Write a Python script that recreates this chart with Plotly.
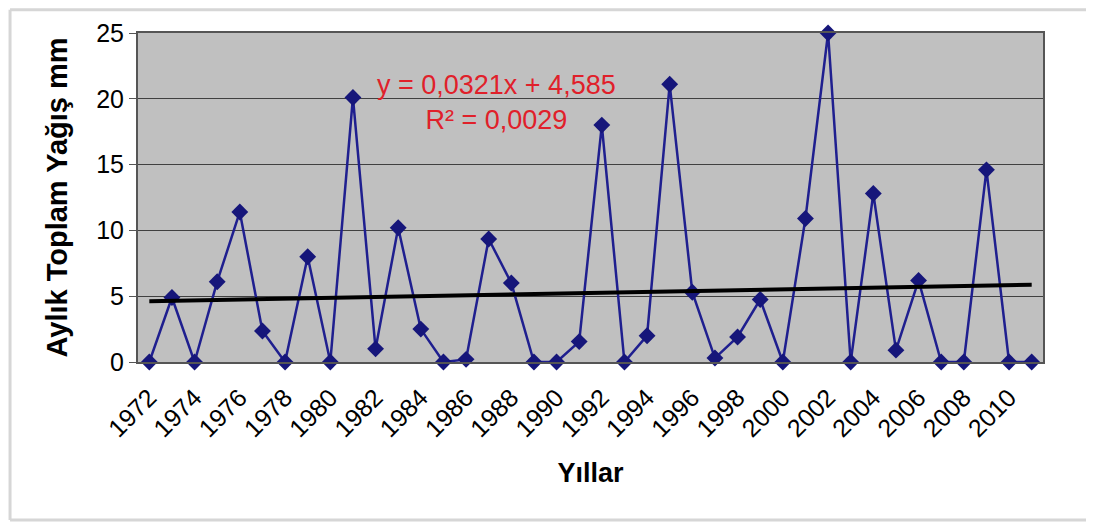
import plotly.graph_objects as go

# Yıllar ve aylık toplam yağış (mm)
years = list(range(1972, 2012))
rain = [0, 4.9, 0, 6.1, 11.4, 2.35, 0, 8.0, 0, 20.1,
        1.0, 10.2, 2.5, 0, 0.2, 9.35, 6.0, 0, 0, 1.55,
        18.0, 0, 2.0, 21.1, 5.3, 0.3, 1.9, 4.75, 0, 10.9,
        25.0, 0, 12.8, 0.9, 6.2, 0, 0, 14.6, 0, 0]

# doğrusal eğilim (Excel trendline): y = a*x + b, x = 1..n
slope = 0.0321
intercept = 4.585
trend_x = [years[0], years[-1]]
trend_y = [slope * 1 + intercept, slope * len(years) + intercept]

fig = go.Figure()

fig.add_trace(go.Scatter(
    x=years, y=rain, mode='lines+markers',
    line=dict(color='#1f1f8f', width=2.5),
    marker=dict(symbol='diamond', size=13, color='#16167a'),
    cliponaxis=False, showlegend=False))

fig.add_trace(go.Scatter(
    x=trend_x, y=trend_y, mode='lines',
    line=dict(color='black', width=4), showlegend=False))

fig.add_annotation(x=0.396, y=0.895, xref='paper', yref='paper', yanchor='top',
                   text='y = 0,0321x + 4,585<br>R² = 0,0029', showarrow=False,
                   align='center', font=dict(family='Liberation Sans, Arial', size=27, color='#e0202a'))

# dış çerçeve: sol, üst ve alt kenar (sağ kenar görünmüyor)
frame = dict(color='#d6d6d6', width=3)
fig.add_shape(type='line', xref='paper', yref='paper', x0=-0.1414, x1=-0.1414,
              y0=-0.48, y1=1.071, line=frame, layer='below')
fig.add_shape(type='line', xref='paper', yref='paper', x0=-0.1414, x1=1.1,
              y0=1.071, y1=1.071, line=frame, layer='below')
fig.add_shape(type='line', xref='paper', yref='paper', x0=-0.1414, x1=1.1,
              y0=-0.48, y1=-0.48, line=frame, layer='below')

fig.update_layout(
    width=1086, height=517,
    margin=dict(l=130, r=51, t=25, b=163),
    paper_bgcolor='white', plot_bgcolor='#c0c0c0',
    font=dict(family='Liberation Sans, Arial', color='black', size=24),
    xaxis=dict(range=[1971.5, 2011.5], tick0=1972, dtick=2, tickangle=-45,
               showgrid=False, showline=True, linecolor='#555555', linewidth=2,
               mirror=True, ticks='outside', ticklen=9, tickcolor='rgba(0,0,0,0)',
               zeroline=False, tickfont=dict(size=25),
               title=dict(text='<b>Yıllar</b>', font=dict(size=27), standoff=22)),
    yaxis=dict(range=[0, 25], dtick=5, showgrid=True, gridcolor='#404040', gridwidth=1,
               showline=True, linecolor='#555555', linewidth=2, mirror=True,
               ticks='outside', ticklen=7, tickcolor='#555555', zeroline=False,
               tickfont=dict(size=25),
               title=dict(text='<b>Aylık Toplam Yağış mm</b>', font=dict(size=29), standoff=20)),
)

fig.write_html("out.html")
